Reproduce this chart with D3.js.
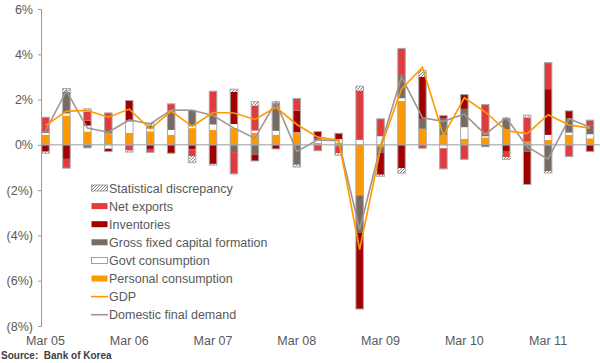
<html>
<head>
<script src="https://cdnjs.cloudflare.com/ajax/libs/d3/7.8.5/d3.min.js"></script>
<style>
body { margin: 0; background: white; }
text { font-family: "Liberation Sans", Arial, sans-serif; }
</style>
</head>
<body></body>
<script>
var screen = {width: 600, height: 363};

var quarters = ["Mar 05","Jun 05","Sep 05","Dec 05","Mar 06","Jun 06","Sep 06","Dec 06",
  "Mar 07","Jun 07","Sep 07","Dec 07","Mar 08","Jun 08","Sep 08","Dec 08",
  "Mar 09","Jun 09","Sep 09","Dec 09","Mar 10","Jun 10","Sep 10","Dec 10",
  "Mar 11","Jun 11","Sep 11"];
var personal    = [0.44,1.29,0.59,0.51,0.53,0.60,0.44,0.74,0.66,0.74,0.53,0.45,0.53,0.08,0.10,-2.23,-0.10,1.94,0.71,0.44,0.26,0.33,0.68,0.14,0.22,0.44,0.29];
var govt        = [0.09,0.10,0.26,-0.17,0.50,0.12,0.22,0.09,0.24,0.18,0.10,0.17,0.02,0.12,0.15,0.22,0.38,0.12,0.00,-0.15,0.52,0.05,0.00,0.00,0.22,0.10,0.18];
var gfcf        = [0.06,0.95,-0.13,0.19,0.05,0.14,0.85,0.69,0.40,-0.32,-0.43,1.22,-0.88,0.08,-0.08,-1.66,-0.25,1.03,0.44,0.75,0.81,0.08,0.50,-0.30,-1.16,0.64,0.37];
var inventories = [-0.30,-0.62,0.22,-0.12,0.88,-0.18,-0.37,-0.20,-0.84,1.42,-0.28,-0.18,0.96,0.31,0.26,-3.36,-0.97,-1.03,1.86,0.10,0.63,-0.08,-0.27,-1.45,2.02,0.32,-0.29];
var netExports  = [0.63,-0.41,0.40,0.71,-0.25,-0.15,0.30,-0.31,1.07,-0.96,1.11,0.00,0.54,-0.26,-0.28,2.18,0.77,1.17,-0.15,-0.91,-0.64,1.32,-0.27,1.07,1.17,-0.51,0.25];
var statDisc    = [-0.07,0.15,0.12,0.00,-0.07,0.10,0.00,-0.28,-0.05,0.12,0.17,0.06,-0.10,0.00,-0.10,0.19,-0.07,-0.22,0.27,0.00,0.00,0.00,-0.10,0.10,-0.08,0.00,0.00];
var gdp         = [0.85,1.49,1.52,1.22,1.58,0.70,1.49,0.82,1.43,1.41,1.12,1.66,0.90,0.34,0.20,-4.63,-0.15,2.47,3.43,0.41,2.08,1.45,0.63,0.50,1.33,0.88,0.74];
var domFinal    = [0.62,2.38,0.74,0.56,1.10,0.92,1.54,1.53,1.30,0.74,0.29,1.90,-0.29,0.22,0.18,-3.74,-0.05,3.00,1.20,1.04,1.36,0.46,1.20,-0.08,-0.63,1.15,0.78];
var yTicks = [6, 4, 2, 0, -2, -4, -6, -8];

var seriesKeys = ["personal","govt","gfcf","inventories","netExports","statDisc"];
var seriesFill = {personal: "#ff9900", govt: "#ffffff", gfcf: "#776b63",
  inventories: "#a00000", netExports: "#e23b3e", statDisc: "url(#hatch)"};
var legendItems = [
  {label: "Statistical discrepancy", key: "statDisc"},
  {label: "Net exports", key: "netExports"},
  {label: "Inventories", key: "inventories"},
  {label: "Gross fixed capital formation", key: "gfcf"},
  {label: "Govt consumption", key: "govt"},
  {label: "Personal consumption", key: "personal"},
  {label: "GDP", line: "#ff9900"},
  {label: "Domestic final demand", line: "#a0968e"}
];

var svg = d3.select("body").append("svg")
  .attr("width", screen.width)
  .attr("height", screen.height);

var defs = svg.append("defs");
var hatch = defs.append("pattern")
  .attr("id", "hatch")
  .attr("patternUnits", "userSpaceOnUse")
  .attr("width", 3).attr("height", 3);
hatch.append("rect").attr("width", 3).attr("height", 3).attr("fill", "#fff");
hatch.append("path").attr("d", "M-1,1 l2,-2 M0,3 l3,-3 M2,4 l2,-2")
  .attr("stroke", "#6d6d6d").attr("stroke-width", 0.9);

var table = quarters.map(function(q, i) {
  return {q: q, personal: personal[i], govt: govt[i], gfcf: gfcf[i],
    inventories: inventories[i], netExports: netExports[i], statDisc: statDisc[i]};
});

var x = d3.scalePoint().domain(quarters).range([45.5, 590]);
var y = d3.scaleLinear().domain([-8, 6]).range([326, 9]);
var barW = 7.5;
var axisX = 41;

// zero line
svg.append("line")
  .attr("x1", axisX).attr("x2", 600)
  .attr("y1", y(0)).attr("y2", y(0))
  .attr("stroke", "#9a9a9a").attr("stroke-width", 1);

// y axis
var yAxis = d3.axisLeft(y).tickValues(yTicks).tickSize(3).tickPadding(5)
  .tickFormat(function(d) { return d < 0 ? "(" + (-d) + "%)" : d + "%"; });
var yG = svg.append("g").attr("transform", "translate(" + axisX + ",0)").call(yAxis);
yG.select(".domain").attr("stroke", "#9a9a9a");
yG.selectAll(".tick line").attr("stroke", "#9a9a9a");
yG.selectAll("text").attr("fill", "#595959").style("font-size", "12.5px")
  .attr("font-family", "Liberation Sans, Arial, sans-serif");

// x labels
svg.append("g").selectAll("text")
  .data(quarters.filter(function(q) { return q.indexOf("Mar") === 0; }))
  .enter().append("text")
  .attr("x", function(d) { return x(d); })
  .attr("y", 344.5)
  .attr("text-anchor", "middle")
  .attr("fill", "#595959")
  .style("font-size", "12.5px")
  .text(function(d) { return d; });

// stacked bars
var stack = d3.stack().keys(seriesKeys).offset(d3.stackOffsetDiverging);
var layers = stack(table);

var bars = svg.append("g");
bars.selectAll("g")
  .data(layers)
  .enter().append("g")
  .attr("fill", function(d) { return seriesFill[d.key]; })
  .selectAll("rect")
  .data(function(d) { return d; })
  .enter().append("rect")
  .attr("x", function(d) { return x(d.data.q) - barW / 2; })
  .attr("width", barW)
  .attr("y", function(d) { return y(Math.max(d[0], d[1])); })
  .attr("height", function(d) { return Math.abs(y(d[0]) - y(d[1])); });

// outlines round the positive and negative halves of each bar
var extents = table.map(function(d) {
  var pos = 0, neg = 0;
  seriesKeys.forEach(function(k) { if (d[k] > 0) pos += d[k]; else neg += d[k]; });
  return {q: d.q, pos: pos, neg: neg};
});
var outline = svg.append("g").attr("fill", "none").attr("stroke", "#a8a8a8").attr("stroke-width", 1);
outline.selectAll("rect.pos").data(extents).enter().append("rect")
  .attr("x", function(d) { return x(d.q) - barW / 2; })
  .attr("width", barW)
  .attr("y", function(d) { return y(d.pos); })
  .attr("height", function(d) { return y(0) - y(d.pos); });
outline.selectAll("rect.neg").data(extents).enter().append("rect")
  .attr("x", function(d) { return x(d.q) - barW / 2; })
  .attr("width", barW)
  .attr("y", y(0))
  .attr("height", function(d) { return y(d.neg) - y(0); });

// lines
var line = d3.line()
  .x(function(d, i) { return x(quarters[i]); })
  .y(function(d) { return y(d); });
svg.append("path").datum(domFinal)
  .attr("d", line).attr("fill", "none")
  .attr("stroke", "#a0968e").attr("stroke-width", 1.6);
svg.append("path").datum(gdp)
  .attr("d", line).attr("fill", "none")
  .attr("stroke", "#ff9900").attr("stroke-width", 1.6);

// legend
var legend = svg.append("g").attr("transform", "translate(91,188)");
var item = legend.selectAll("g").data(legendItems).enter().append("g")
  .attr("transform", function(d, i) { return "translate(0," + (i * 18.1) + ")"; });
item.filter(function(d) { return !d.line; }).append("rect")
  .attr("x", 0.5).attr("y", -3).attr("width", 16).attr("height", 6)
  .attr("fill", function(d) { return seriesFill[d.key]; })
  .attr("stroke", function(d) { return d.key === "govt" || d.key === "statDisc" ? "#8a8a8a" : "none"; })
  .attr("stroke-width", 0.8);
item.filter(function(d) { return d.line; }).append("line")
  .attr("x1", 0).attr("x2", 17).attr("y1", 0).attr("y2", 0)
  .attr("stroke", function(d) { return d.line; }).attr("stroke-width", 1.6);
item.append("text")
  .attr("x", 18).attr("y", 4.5)
  .attr("fill", "#595959")
  .style("font-size", "12.5px")
  .text(function(d) { return d.label; });

// source
svg.append("text")
  .attr("x", 1).attr("y", 359)
  .attr("fill", "#404040")
  .style("font-size", "10px")
  .style("font-weight", "bold")
  .attr("xml:space", "preserve")
  .style("white-space", "pre")
  .text("Source:  Bank of Korea");
</script>
</html>
